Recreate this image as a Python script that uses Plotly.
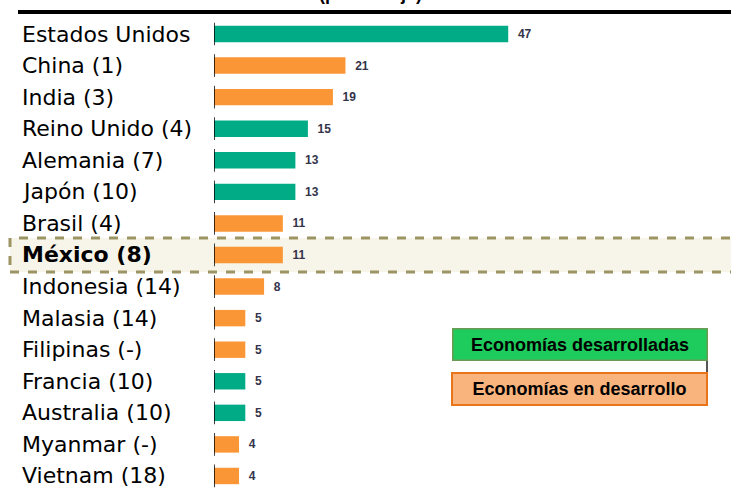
import plotly.graph_objects as go

countries = ["Estados Unidos", "China (1)", "India (3)", "Reino Unido (4)", "Alemania (7)",
             "Japón (10)", "Brasil (4)", "México (8)", "Indonesia (14)", "Malasia (14)",
             "Filipinas (-)", "Francia (10)", "Australia (10)", "Myanmar (-)", "Vietnam (18)"]
values = [47, 21, 19, 15, 13, 13, 11, 11, 8, 5, 5, 5, 5, 4, 4]
group = ["des", "dev", "dev", "des", "des", "des", "dev", "dev", "dev", "dev",
         "dev", "des", "des", "dev", "dev"]

GREEN = "#00ab86"
ORANGE = "#fb9637"
colors = [GREEN if g == "des" else ORANGE for g in group]

W, H = 731, 489
ML, MR, MT, MB = 214, 0, 18, 0
PW, PH = W - ML - MR, H - MT - MB
ROW = 31.57

def px(x):
    return (x - ML) / PW

def py(y):
    return 1 - (y - MT) / PH

fig = go.Figure()
fig.add_trace(go.Bar(
    y=list(range(len(countries))), x=values, orientation="h",
    marker=dict(color=colors, line=dict(width=0)),
    width=0.52, text=["  <b>" + str(v) + "</b>" for v in values], textposition="outside",
    textfont=dict(family="Liberation Sans", size=12, color="#33334a"),
    cliponaxis=False, hoverinfo="skip"))

shapes = [
    # México highlight
    dict(type="rect", xref="paper", yref="paper", x0=px(10), x1=px(740), y0=py(272), y1=py(238),
         line=dict(color="#9c9462", width=3, dash="dash"), fillcolor="rgba(235,230,200,0.4)",
         layer="below"),
    # title rule
    dict(type="line", xref="paper", yref="paper", x0=px(18), x1=px(731), y0=py(12), y1=py(12),
         line=dict(color="black", width=4)),
    dict(type="line", xref="paper", yref="paper", x0=px(707), x1=px(707), y0=py(372), y1=py(360),
         line=dict(color="#555555", width=2)),
]
# segmented axis line, one segment per category
for i in range(len(countries)):
    shapes.append(dict(type="line", xref="x", yref="y", x0=0, x1=0, y0=i - 0.36, y1=i + 0.36,
                       line=dict(color="black", width=1.5), layer="above"))

annotations = [
    dict(text="<b>(porcentaje)</b>", xref="paper", yref="paper", x=px(370), y=py(6),
         xanchor="center", yanchor="bottom", showarrow=False,
         font=dict(family="Liberation Sans", size=18, color="black")),
    dict(text="<b>Economías desarrolladas</b>", xref="paper", yref="paper",
         x=px(579.5), y=py(344), xanchor="center", yanchor="middle", showarrow=False,
         width=251, height=28, bgcolor="#1dcc5c", bordercolor="#6b9a55", borderwidth=1.5,
         font=dict(family="Liberation Sans", size=18, color="black")),
    dict(text="<b>Economías en desarrollo</b>", xref="paper", yref="paper",
         x=px(579.5), y=py(388.5), xanchor="center", yanchor="middle", showarrow=False,
         width=251, height=28, bgcolor="#f9b47e", bordercolor="#e8741c", borderwidth=2,
         font=dict(family="Liberation Sans", size=18, color="black")),
]
for i, c in enumerate(countries):
    label = "<b>" + c + "</b>" if c.startswith("México") else c
    annotations.append(dict(text=label, xref="paper", yref="y", x=px(20), y=i,
                            xanchor="left", yanchor="middle", showarrow=False,
                            font=dict(family="DejaVu Sans", size=22, color="black")))

top = -(34 - MT) / ROW
bottom = top + PH / ROW

fig.update_layout(
    width=W, height=H, margin=dict(l=ML, r=MR, t=MT, b=MB),
    paper_bgcolor="white", plot_bgcolor="white", showlegend=False,
    shapes=shapes, annotations=annotations,
    xaxis=dict(range=[0, PW / 6.26], visible=False, fixedrange=True),
    yaxis=dict(range=[bottom, top], visible=False, fixedrange=True),
)

fig.write_html("out.html", config={"displayModeBar": False},
               post_script="document.body.style.margin='0';document.body.style.overflow='hidden';")
